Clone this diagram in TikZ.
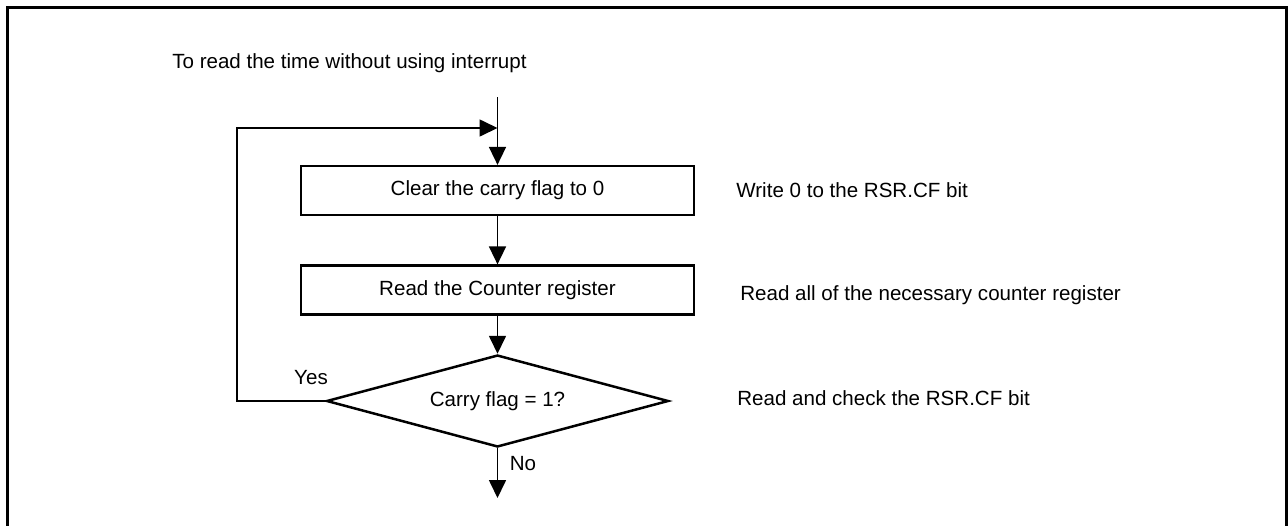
\documentclass[tikz,border=0pt]{standalone}
\usepackage{fontspec}
\setmainfont{Liberation Sans}
\usetikzlibrary{arrows.meta, shapes.geometric, positioning}

\begin{document}
\begin{tikzpicture}[x=0.02cm, y=-0.02cm,
    every node/.style={font=\fontsize{11.7}{14}\selectfont},
    stepbox/.style={draw, line width=0.045cm, minimum width=7.86cm,
      minimum height=0.98cm, inner sep=0pt},
    decision/.style={draw, diamond, line width=0.05cm, aspect=3.72,
      minimum width=6.84cm, minimum height=1.84cm, inner sep=0pt},
    flow/.style={line width=0.033cm,
      -{Triangle[length=0.36cm, width=0.34cm]}},
    remark/.style={anchor=west, inner sep=0pt}]
  \useasboundingbox (0,0) rectangle (1288,525);

  % Outer frame (bottom edge cut off)
  \draw[line width=0.06cm] (7.5,540) -- (7.5,7) -- (1286.5,7) -- (1286.5,540);

  % Heading
  \node[remark] (intro) at (172,63) {To read the time without using interrupt};

  % Flow steps
  \coordinate (entry) at (497.5,97);
  \node[stepbox] (clear) at (497.5,190.5) {Clear the carry flag to 0};
  \node[stepbox] (readcnt) at (497.5,290) {Read the Counter register};
  \node[decision] (check) at (497.5,401) {Carry flag = 1?};
  \coordinate (exit) at (497.5,498);
  \coordinate (loopturn) at (237,128);

  % Side remarks
  \node[remark] (note1) at (736,190) {Write 0 to the RSR.CF bit};
  \node[remark] (note2) at (740,295) {Read all of the necessary counter register};
  \node[remark] (note3) at (737,398) {Read and check the RSR.CF bit};

  % Connectors
  \draw[flow] (entry) -- (clear);
  \draw[flow] (clear) -- (readcnt);
  \draw[flow] (readcnt) -- (check);
  \draw[flow] (check.south) -- (exit);
  \draw[flow] (check.west) -| (loopturn) -- (loopturn -| entry);

  % Branch labels
  \node (yes) at (311,378) {Yes};
  \node (no) at (523,464) {No};
\end{tikzpicture}
\end{document}
